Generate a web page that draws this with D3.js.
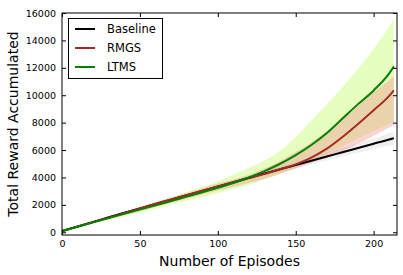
<!DOCTYPE html>
<html><head><meta charset="utf-8">
<script src="https://cdn.jsdelivr.net/npm/d3@7"></script>
<style>body{margin:0;background:#fff;}svg{display:block;font-family:"DejaVu Sans",sans-serif;}</style>
</head><body><svg id="c" width="403" height="275"></svg>
<script>
const episodes   = [0,10,20,30,40,50,60,70,80,90,100,110,120,130,140,150,160,170,180,190,200,210,213];
const baseline   = [80,420,760,1090,1420,1740,2060,2380,2700,3020,3340,3660,3980,4290,4600,4910,5220,5530,5840,6150,6460,6770,6870];
const baseHi     = [80,440,790,1130,1470,1800,2130,2460,2790,3120,3450,3790,4130,4460,4800,5140,5480,5820,6160,6500,6840,7220,7380];
const baseLo     = [80,400,730,1050,1370,1680,1990,2300,2610,2920,3230,3530,3830,4120,4400,4680,4960,5240,5520,5800,6080,6320,6360];
const rmgs       = [80,410,740,1070,1400,1730,2060,2390,2710,3030,3340,3650,3950,4260,4600,4950,5450,6100,6950,7900,8900,9950,10350];
const rmgsHi     = [80,420,760,1110,1460,1850,2190,2530,2870,3210,3550,3850,4200,4650,5200,5850,6550,7350,8250,9250,10250,11100,11400];
const rmgsLo     = [80,380,690,1000,1300,1550,1850,2150,2450,2750,3050,3300,3600,3900,4280,4650,5050,5450,5900,6450,7050,7650,7850];
const ltms       = [80,400,720,1030,1340,1650,1960,2280,2600,2920,3250,3600,4000,4460,5000,5630,6370,7250,8300,9350,10350,11600,12100];
const ltmsHi     = [80,440,800,1150,1500,1850,2200,2560,2930,3320,3730,4200,4700,5250,5950,6950,8150,9350,10600,11950,13400,15000,15600];
const ltmsLo     = [80,360,640,910,1180,1450,1720,2000,2280,2560,2850,3150,3450,3850,4250,4700,5200,5750,6300,6850,7400,7900,8100];
const xTicks = [0,50,100,150,200];
const yTicks = [0,2000,4000,6000,8000,10000,12000,14000,16000];
const seriesNames = ["Baseline","RMGS","LTMS"];
const seriesColors = ["#000000","#a52a2a","#008000"];

const svg = d3.select("#c");
const L=62,R=397,T=13,B=235;
const x = d3.scaleLinear().domain([0,215]).range([L,R]);
const y = d3.scaleLinear().domain([-200,16000]).range([B,T]);

svg.append("clipPath").attr("id","pc").append("rect").attr("x",L).attr("y",T).attr("width",R-L).attr("height",B-T);
const g = svg.append("g").attr("clip-path","url(#pc)");

function band(hi,lo,fill,op){
  const a = d3.area().curve(d3.curveMonotoneX).x((d,i)=>x(episodes[i])).y0((d,i)=>y(lo[i])).y1((d,i)=>y(hi[i]));
  g.append("path").datum(hi).attr("d",a).attr("fill",fill).attr("fill-opacity",op).attr("stroke","none");
}
band(baseHi,baseLo,"#808080",0.12);
band(ltmsHi,ltmsLo,"#adff2f",0.3);
band(rmgsHi,rmgsLo,"#f08080",0.35);

function line(v,col){
  const l = d3.line().curve(d3.curveMonotoneX).x((d,i)=>x(episodes[i])).y(d=>y(d));
  g.append("path").datum(v).attr("d",l).attr("fill","none").attr("stroke",col).attr("stroke-width",2);
}
line(baseline,seriesColors[0]);
line(rmgs,seriesColors[1]);
line(ltms,seriesColors[2]);

const xb = svg.append("g").attr("transform",`translate(0,${B})`).call(d3.axisBottom(x).tickValues(xTicks).tickSizeInner(-4).tickSizeOuter(0).tickPadding(5));
const xt = svg.append("g").attr("transform",`translate(0,${T})`).call(d3.axisTop(x).tickValues(xTicks).tickSizeInner(-4).tickSizeOuter(0).tickFormat(""));
const yl = svg.append("g").attr("transform",`translate(${L},0)`).call(d3.axisLeft(y).tickValues(yTicks).tickSizeInner(-4).tickSizeOuter(0).tickPadding(6).tickFormat(d3.format("d")));
const yr = svg.append("g").attr("transform",`translate(${R},0)`).call(d3.axisRight(y).tickValues(yTicks).tickSizeInner(-4).tickSizeOuter(0).tickFormat(""));
[xb,xt,yl,yr].forEach(a=>{a.select(".domain").remove();a.selectAll("text").attr("font-family","DejaVu Sans").attr("font-size","9.5px").attr("fill","#000");a.selectAll("line").attr("stroke","#000");});

svg.append("rect").attr("x",L).attr("y",T).attr("width",R-L).attr("height",B-T).attr("fill","none").attr("stroke","#000").attr("stroke-width",1);

svg.append("text").attr("x",(L+R)/2).attr("y",266).attr("text-anchor","middle").attr("font-size","14px").text("Number of Episodes");
svg.append("text").attr("transform",`translate(18,${(T+B)/2}) rotate(-90)`).attr("text-anchor","middle").attr("font-size","14px").text("Total Reward Accumulated");

const lg = svg.append("g");
lg.append("rect").attr("x",68.5).attr("y",18.5).attr("width",94).attr("height",60).attr("fill","#fff").attr("stroke","#000").attr("stroke-width",1);
seriesNames.forEach((n,i)=>{
  const yy = 29 + i*19;
  lg.append("line").attr("x1",75).attr("x2",95).attr("y1",yy).attr("y2",yy).attr("stroke",seriesColors[i]).attr("stroke-width",2);
  lg.append("text").attr("x",107).attr("y",yy).attr("dy","0.35em").attr("font-size","11.5px").text(n);
});
</script></body></html>
